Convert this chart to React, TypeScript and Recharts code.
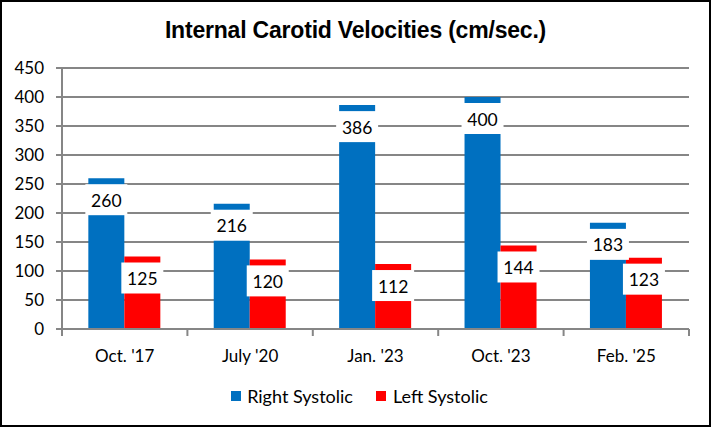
import React from 'react'
import {
  BarChart,
  Bar,
  XAxis,
  YAxis,
  CartesianGrid,
  Legend,
  LabelList,
} from 'recharts'

const categories = ["Oct. '17", "July '20", "Jan. '23", "Oct. '23", "Feb. '25"]
const rightSystolic = [260, 216, 386, 400, 183]
const leftSystolic = [125, 120, 112, 144, 123]
const yTicks = [0, 50, 100, 150, 200, 250, 300, 350, 400, 450]

const data = categories.map((name, i) => ({
  name,
  right: rightSystolic[i],
  left: leftSystolic[i],
}))

const W = 707
const H = 423
const MARGIN = { top: 66, right: 20, bottom: 7, left: 0 }
const Y_WIDTH = 60
const BAND = (W - MARGIN.left - MARGIN.right - Y_WIDTH) / categories.length
const GRID = '#868686'
const FONT = 'Lato, "Open Sans", sans-serif'

const ValueLabel = (props: any) => {
  const { x, y, width, value } = props
  const cx = x + width / 2
  return (
    <g>
      <rect x={cx - 21} y={y + 6} width={42} height={31} fill="#fff" />
      <text
        x={cx}
        y={y + 22}
        textAnchor="middle"
        dominantBaseline="central"
        fontSize={17.5}
        fontFamily={FONT}
        fill="#000"
      >
        {value}
      </text>
    </g>
  )
}

const XTick = (props: any) => {
  const { x, y, payload, index } = props
  const left = x - BAND / 2
  const right = x + BAND / 2
  return (
    <g>
      <line x1={left} x2={left} y1={y} y2={y + 7} stroke={GRID} strokeWidth={2} />
      {index === categories.length - 1 && (
        <line x1={right} x2={right} y1={y} y2={y + 7} stroke={GRID} strokeWidth={2} />
      )}
      <text
        x={x}
        y={y + 26}
        textAnchor="middle"
        dominantBaseline="central"
        fontSize={17}
        fontFamily={FONT}
        fill="#000"
      >
        {payload.value}
      </text>
    </g>
  )
}

const LegendContent = () => (
  <div
    style={{
      height: 44,
      display: 'flex',
      alignItems: 'center',
      justifyContent: 'center',
      paddingLeft: 28,
      fontFamily: FONT,
      fontSize: 18,
      color: '#000',
    }}
  >
    <span style={{ display: 'inline-block', width: 10, height: 10, background: '#0070C0', marginRight: 6 }} />
    <span style={{ marginRight: 23 }}>Right Systolic</span>
    <span style={{ display: 'inline-block', width: 10, height: 10, background: '#FF0000', marginRight: 7 }} />
    <span>Left Systolic</span>
  </div>
)

export default function App() {
  return (
    <div
      style={{
        position: 'absolute',
        left: 0,
        top: 0,
        width: 711,
        height: 427,
        border: '2px solid #000',
        boxSizing: 'border-box',
        background: '#fff',
      }}
    >
      <div
        style={{
          position: 'absolute',
          left: 0,
          right: 0,
          top: 15,
          textAlign: 'center',
          fontFamily: '"Liberation Sans", Arial, sans-serif',
          fontWeight: 'bold',
          fontSize: 23,
          letterSpacing: -0.2,
          color: '#000',
        }}
      >
        Internal Carotid Velocities (cm/sec.)
      </div>
      <BarChart
        width={W}
        height={H}
        data={data}
        margin={MARGIN}
        barCategoryGap="21%"
        barGap={0}
      >
        <CartesianGrid vertical={false} stroke={GRID} strokeWidth={2} />
        <XAxis
          dataKey="name"
          axisLine={{ stroke: GRID, strokeWidth: 2 }}
          tickLine={false}
          tickSize={0}
          tickMargin={0}
          height={45}
          tick={<XTick />}
          interval={0}
        />
        <YAxis
          domain={[0, 450]}
          ticks={yTicks}
          width={Y_WIDTH}
          axisLine={{ stroke: GRID, strokeWidth: 2 }}
          tickLine={{ stroke: GRID, strokeWidth: 2 }}
          tickSize={6}
          tickMargin={12}
          tick={{ fill: '#000', fontSize: 17, fontFamily: FONT }}
          interval={0}
        />
        <Legend verticalAlign="bottom" height={44} content={<LegendContent />} />
        <Bar dataKey="right" name="Right Systolic" fill="#0070C0" isAnimationActive={false}>
          <LabelList dataKey="right" content={<ValueLabel />} />
        </Bar>
        <Bar dataKey="left" name="Left Systolic" fill="#FF0000" isAnimationActive={false}>
          <LabelList dataKey="left" content={<ValueLabel />} />
        </Bar>
      </BarChart>
    </div>
  )
}
